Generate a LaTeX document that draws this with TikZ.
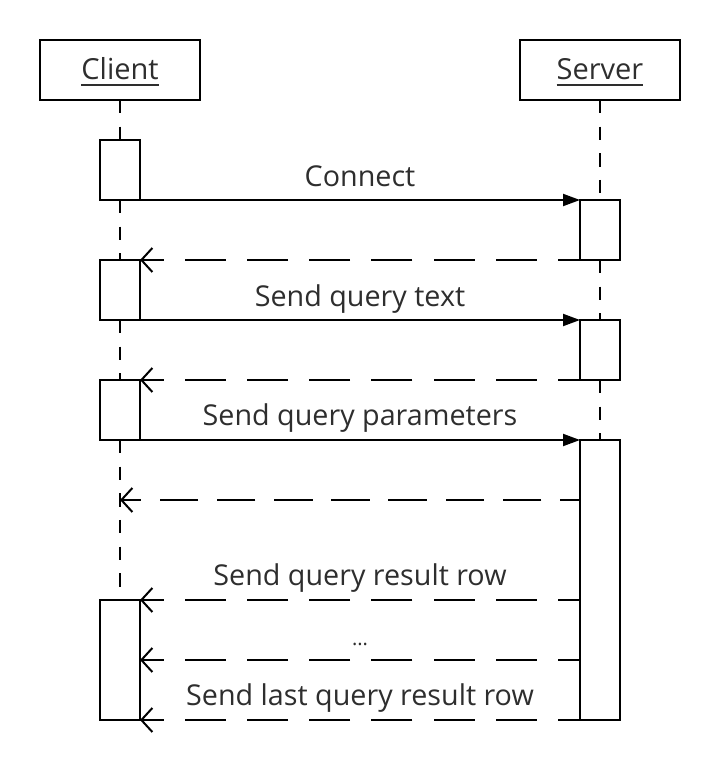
\documentclass[tikz,border=0pt]{standalone}
\usepackage{fontspec}
\setmainfont{Open Sans}
\usetikzlibrary{arrows.meta}
\definecolor{txt}{HTML}{2E2E2E}
\newcommand\ulin[1]{\setbox0\hbox{#1}\rlap{\rule[-6.2pt]{\wd0}{2pt}}\box0}
\begin{document}
\begin{tikzpicture}[x=1pt,y=-1pt,
  head/.style={draw, line width=2pt, fill=white, minimum width=160pt, minimum height=60pt, inner sep=0pt, outer sep=0pt},
  hdtxt/.style={font=\fontsize{29}{34}\selectfont, text=txt, anchor=base, inner sep=0pt},
  act/.style={draw, line width=2pt, fill=white, minimum width=40pt, inner sep=0pt, outer sep=0pt},
  life/.style={line width=2pt, dash pattern=on 13.33pt off 13.33pt},
  msg/.style={line width=2pt, -{Triangle[length=17pt,width=12pt]}},
  ret/.style={line width=2pt, dash pattern=on 41pt off 21.2pt, dash phase=19pt, -{Straight Barb[length=11pt,width=24pt,line width=2pt]}},
  retb/.style={line width=2pt, dash pattern=on 38.5pt off 18.7pt, dash phase=18.5pt, -{Straight Barb[length=11pt,width=24pt,line width=2pt]}},
  lbl/.style={font=\fontsize{28.7}{34}\selectfont, text=txt, anchor=base, inner sep=0pt},
  dots/.style={font=\fontsize{20}{24}\selectfont, text=txt, anchor=base, inner sep=0pt}
]
\fill[white] (0,0) rectangle (720,770);
\useasboundingbox (0,0) rectangle (720,770);

% heads
\node[head] (client) at (120,70) {};
\node[hdtxt] (clienttxt) at (120,80) {\ulin{Client}};
\node[head] (server) at (600,70) {};
\node[hdtxt] (servertxt) at (600,80) {\ulin{Server}};

% activations
\node[act, minimum height=60pt] (ca1) at (120,170) {};
\node[act, minimum height=60pt] (sa1) at (600,230) {};
\node[act, minimum height=60pt] (ca2) at (120,290) {};
\node[act, minimum height=60pt] (sa2) at (600,350) {};
\node[act, minimum height=60pt] (ca3) at (120,410) {};
\node[act, minimum height=280pt] (sa3) at (600,580) {};
\node[act, minimum height=120pt] (ca4) at (120,660) {};

% lifelines
\draw[life] (client.south) -- (ca1.north);
\draw[life] (ca1.south) -- (ca2.north);
\draw[life] (ca2.south) -- (ca3.north);
\draw[life] (ca3.south) -- (ca4.north);
\draw[life] (server.south) -- (sa1.north);
\draw[life] (sa1.south) -- (sa2.north);
\draw[life] (sa2.south) -- (sa3.north);

% messages
\coordinate (r3) at (120,500);
\draw[msg] (ca1.south east) -- (sa1.north west);
\draw[ret] (sa1.south west) -- (ca2.north east);
\draw[msg] (ca2.south east) -- (sa2.north west);
\draw[ret] (sa2.south west) -- (ca3.north east);
\draw[msg] (ca3.south east) -- (sa3.north west);
\draw[retb] (sa3.west |- r3) -- (r3);
\draw[ret] (sa3.west |- ca4.north) -- (ca4.north east);
\draw[ret] (sa3.west |- ca4.east) -- (ca4.east);
\draw[ret] (sa3.south west) -- (ca4.south east);

% labels
\node[lbl] (m1) at (360,186) {Connect};
\node[lbl] (m2) at (360,306) {Send query text};
\node[lbl] (m3) at (360,425) {Send query parameters};
\node[lbl] (m4) at (360,585) {Send query result row};
\node[dots] (m5) at (360,645) {...};
\node[lbl] (m6) at (360,705) {Send last query result row};
\end{tikzpicture}
\end{document}
